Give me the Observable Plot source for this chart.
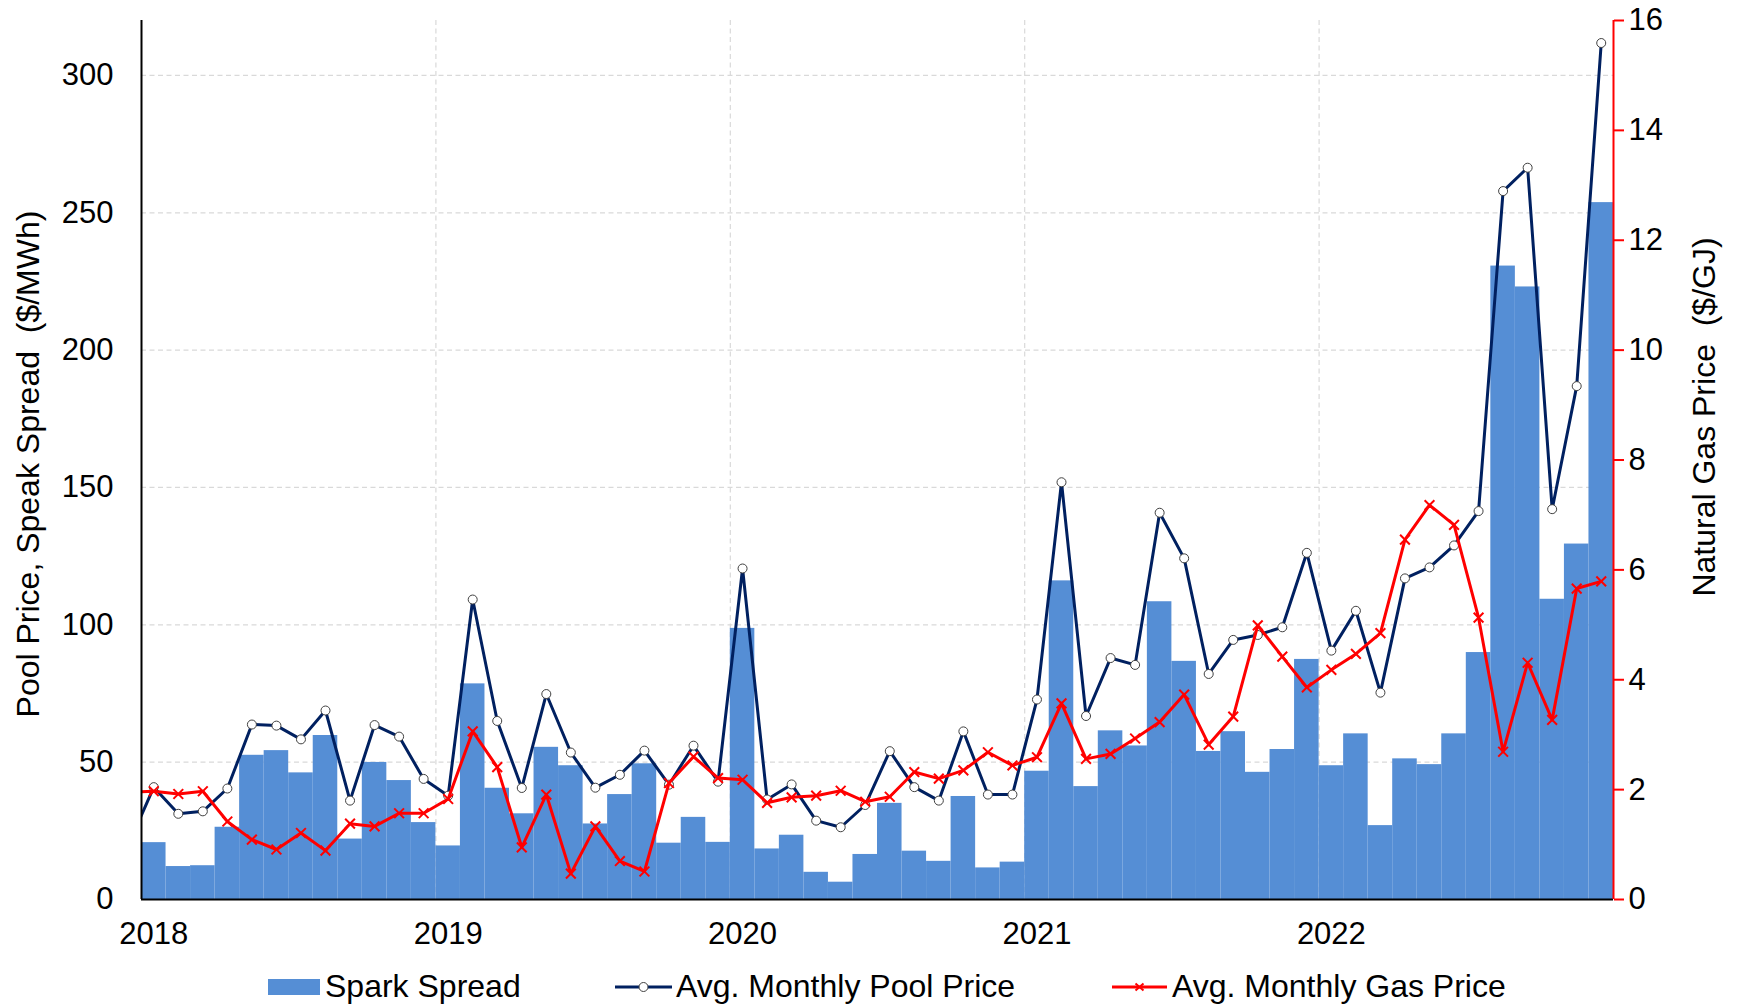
<!DOCTYPE html>
<html>
<head>
<meta charset="utf-8">
<script src="https://cdn.jsdelivr.net/npm/d3@7"></script>
<script src="https://cdn.jsdelivr.net/npm/@observablehq/plot@0.6"></script>
<style>
  body { margin: 0; background: #fff; font-family: "Liberation Sans", Arial, sans-serif; }
  #chart { width: 1738px; height: 955px; }
  #legend { position: relative; width: 1738px; height: 50px; font-size: 32px; color: #000; }
  #legend .t { position: absolute; top: 15px; line-height: 32px; white-space: nowrap; }
  #legend .s { position: absolute; }
</style>
</head>
<body>
<div id="chart"></div>
<div id="legend">
  <div class="s" style="left:268px;top:24px;width:52px;height:16px;background:#558ED5"></div>
  <span class="t" style="left:325px">Spark Spread</span>
  <svg class="s" style="left:615px;top:22px" width="57" height="20">
    <line x1="0" y1="10" x2="57" y2="10" stroke="#002060" stroke-width="3"></line>
    <circle cx="28.5" cy="10" r="4.5" fill="#fff" stroke="#404040" stroke-width="1"></circle>
  </svg>
  <span class="t" style="left:676px">Avg. Monthly Pool Price</span>
  <svg class="s" style="left:1112px;top:22px" width="55" height="20">
    <line x1="0" y1="10" x2="55" y2="10" stroke="#FF0000" stroke-width="3"></line>
    <path d="M23.5,6.5L31.5,13.5M23.5,13.5L31.5,6.5" stroke="#FF0000" stroke-width="2"></path>
  </svg>
  <span class="t" style="left:1172px">Avg. Monthly Gas Price</span>
</div>
<script>
// Months (Dec 2017 only supplies the clipped start of the two lines)
const months = [
  "2017-12",
  "2018-01","2018-02","2018-03","2018-04","2018-05","2018-06","2018-07","2018-08","2018-09","2018-10","2018-11","2018-12",
  "2019-01","2019-02","2019-03","2019-04","2019-05","2019-06","2019-07","2019-08","2019-09","2019-10","2019-11","2019-12",
  "2020-01","2020-02","2020-03","2020-04","2020-05","2020-06","2020-07","2020-08","2020-09","2020-10","2020-11","2020-12",
  "2021-01","2021-02","2021-03","2021-04","2021-05","2021-06","2021-07","2021-08","2021-09","2021-10","2021-11","2021-12",
  "2022-01","2022-02","2022-03","2022-04","2022-05","2022-06","2022-07","2022-08","2022-09","2022-10","2022-11","2022-12"
];
// Spark Spread ($/MWh)
const sparkSpread = [
  null,
  20.7, 12.0, 12.3, 26.3, 52.5, 54.2, 46.1, 59.7, 22.0, 49.9, 43.3, 28.0,
  19.5, 78.5, 40.5, 31.2, 55.4, 48.7, 27.5, 38.2, 49.4, 20.5, 29.9, 20.8,
  98.7, 18.4, 23.4, 9.9, 6.3, 16.4, 35.0, 17.6, 13.9, 37.5, 11.5, 13.6,
  46.7, 116.0, 41.1, 61.4, 55.9, 108.4, 86.7, 53.9, 61.1, 46.3, 54.6, 87.4,
  48.7, 60.3, 26.9, 51.2, 49.1, 60.3, 89.9, 230.6, 223.0, 109.3, 129.4, 253.7
];
// Avg. Monthly Pool Price ($/MWh)
const poolPrice = [
  20.5,
  40.9, 31.2, 32.1, 40.4, 63.7, 63.3, 58.3, 68.8, 36.0, 63.5, 59.3, 43.9,
  37.8, 109.2, 65.0, 40.6, 74.8, 53.5, 40.7, 45.4, 54.2, 41.8, 56.0, 42.9,
  120.5, 36.4, 41.9, 28.7, 26.3, 34.4, 54.0, 40.9, 36.0, 61.2, 38.2, 38.2,
  72.8, 151.9, 66.8, 87.9, 85.4, 140.8, 124.2, 82.1, 94.5, 96.3, 99.1, 126.2,
  90.6, 105.1, 75.3, 116.9, 120.9, 128.9, 141.4, 257.9, 266.4, 142.1, 186.9, 311.8
];
// Avg. Monthly Gas Price ($/GJ)
const gasPrice = [
  1.95,
  1.97, 1.92, 1.97, 1.42, 1.09, 0.91, 1.21, 0.89, 1.38, 1.33, 1.57, 1.57,
  1.83, 3.06, 2.41, 0.95, 1.91, 0.47, 1.33, 0.70, 0.51, 2.12, 2.60, 2.21,
  2.18, 1.76, 1.86, 1.89, 1.98, 1.78, 1.87, 2.32, 2.20, 2.35, 2.68, 2.44,
  2.59, 3.57, 2.56, 2.65, 2.93, 3.23, 3.73, 2.82, 3.33, 4.99, 4.42, 3.86,
  4.18, 4.47, 4.85, 6.55, 7.18, 6.82, 5.13, 2.69, 4.31, 3.27, 5.66, 5.79
];
const yearLabels = ["2018", "2019", "2020", "2021", "2022"];
const leftTicks = [0, 50, 100, 150, 200, 250, 300];
const rightTicks = [0, 2, 4, 6, 8, 10, 12, 14, 16];
const leftMax = 320, rightMax = 16;
const k = leftMax / rightMax; // right-axis value -> left-axis units

const firstIdx = months.indexOf("2018-01");
const rows = months.map((m, i) => ({
  month: m,
  x1: i - firstIdx,
  x2: i - firstIdx + 1,
  mid: i - firstIdx + 0.5,
  spark: sparkSpread[i],
  pool: poolPrice[i],
  gas: gasPrice[i] * k
}));
const nMonths = months.length - firstIdx;
const yearStarts = yearLabels.map((y, j) => months.indexOf(y + "-01") - firstIdx);

const font = "'Liberation Sans', Arial, sans-serif";
const chart = Plot.plot({
  width: 1738,
  height: 955,
  marginTop: 20,
  marginLeft: 141,
  marginRight: 125,
  marginBottom: 56,
  style: { fontFamily: font, fontSize: "31px", color: "#000", background: "#fff", overflow: "visible" },
  x: { type: "linear", domain: [0, nMonths] },
  y: { domain: [0, leftMax] },
  marks: [
    Plot.gridY(leftTicks.filter(v => v > 0), { stroke: "#d9d9d9", strokeOpacity: 1, strokeWidth: 1.2, strokeDasharray: "5,3.5" }),
    Plot.gridX(yearStarts.filter(v => v > 0), { stroke: "#d9d9d9", strokeOpacity: 1, strokeWidth: 1.2, strokeDasharray: "5,3.5" }),
    Plot.rectY(rows.filter(d => d.spark != null), { x1: "x1", x2: "x2", y: "spark", fill: "#558ED5", inset: 0 }),
    Plot.line(rows, { x: "mid", y: "pool", stroke: "#002060", strokeWidth: 3, clip: true }),
    Plot.dot(rows, { x: "mid", y: "pool", r: 4.5, fill: "#fff", stroke: "#404040", strokeWidth: 1, clip: true }),
    Plot.line(rows, { x: "mid", y: "gas", stroke: "#FF0000", strokeWidth: 3, clip: true }),
    Plot.dot(rows, { x: "mid", y: "gas", symbol: "times", r: 4.5, stroke: "#FF0000", strokeWidth: 2, clip: true }),
    Plot.axisY({ anchor: "left", ticks: leftTicks, tickSize: 0, tickPadding: 28, label: null, fontSize: 31, fill: "#000" }),
    Plot.axisY({ anchor: "right", ticks: rightTicks.map(v => v * k), tickFormat: d => String(Math.round(d / k)), tickSize: 10, tickPadding: 5, stroke: "#FF0000", strokeWidth: 2, label: null, fontSize: 31, fill: "#000" }),
    Plot.axisX({ ticks: yearStarts.map(v => v + 0.5), tickFormat: d => yearLabels[yearStarts.indexOf(d - 0.5)], tickSize: 0, tickPadding: 22, label: null, fontSize: 31, fill: "#000" }),
    Plot.ruleX([0], { stroke: "#000", strokeWidth: 2 }),
    Plot.ruleY([0], { stroke: "#000", strokeWidth: 2 }),
    Plot.ruleX([nMonths], { stroke: "#FF0000", strokeWidth: 2 }),
    Plot.text(["Pool Price, Speak Spread  ($/MWh)"], { frameAnchor: "left", textAnchor: "middle", dx: -113, dy: 4, rotate: -90, fontSize: 32, fill: "#000" }),
    Plot.text(["Natural Gas Price  ($/GJ)"], { frameAnchor: "right", textAnchor: "middle", dx: 91, dy: -43, rotate: -90, fontSize: 32, fill: "#000" })
  ]
});
document.getElementById("chart").appendChild(chart);
</script>
</body>
</html>
